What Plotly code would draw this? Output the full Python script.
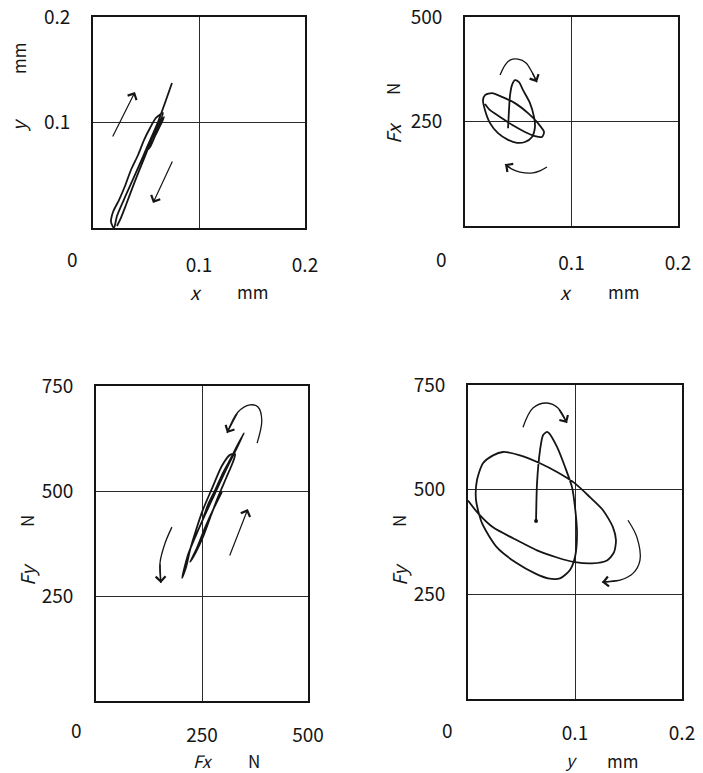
import plotly.graph_objects as go

# ---------------- data ----------------
# (a) displacement orbit, x vs y [mm]
orbit_xy_x = [0.0745, 0.0679, 0.0613, 0.0519, 0.0425, 0.0311, 0.0226, 0.0198,
              0.0170, 0.0189, 0.0245, 0.0302, 0.0358, 0.0425, 0.0481, 0.0538, 0.0594, 0.0660,
              0.0604, 0.0538, 0.0509, 0.0538, 0.0585, 0.0651, 0.0670,
              0.0623, 0.0566, 0.0491, 0.0396, 0.0311, 0.0255, 0.0226]
orbit_xy_y = [0.1374, 0.1185, 0.1005, 0.0787, 0.0569, 0.0313, 0.0114, 0.0000,
              0.0057, 0.0152, 0.0265, 0.0398, 0.0550, 0.0692, 0.0834, 0.0948, 0.1043, 0.1090,
              0.0948, 0.0815, 0.0739, 0.0768, 0.0872, 0.1005, 0.1052,
              0.0986, 0.0872, 0.0682, 0.0445, 0.0218, 0.0076, 0.0019]

# (b) x displacement [mm] vs Fx [N]
orbit_xf_x = [0.0404, 0.0413, 0.0423, 0.0441, 0.0469, 0.0507, 0.0545, 0.0610, 0.0648,
              0.0657, 0.0629, 0.0563, 0.0488, 0.0404, 0.0310, 0.0235, 0.0188, 0.0169,
              0.0188, 0.0254, 0.0347, 0.0469, 0.0592, 0.0685, 0.0742, 0.0723, 0.0657,
              0.0563, 0.0441, 0.0329, 0.0235, 0.0188]
orbit_xf_f = [234, 277, 313, 337, 349, 344, 325, 294, 261,
              237, 213, 201, 199, 206, 222, 246, 277, 301,
              313, 318, 309, 294, 270, 246, 225, 213, 215,
              225, 242, 261, 277, 292]

# (c) Fx [N] vs Fy [N]
orbit_ff_x = [252, 264, 281, 297, 316, 330, 349, 330, 304, 281, 257, 236, 217, 203,
              212, 222, 236, 252, 274, 297, 316, 328, 323, 307, 288, 269, 252, 236, 222,
              238, 257, 276, 297]
orbit_ff_y = [433, 467, 502, 538, 574, 602, 638, 598, 545, 495, 443, 395, 348, 293,
              317, 360, 407, 455, 507, 560, 586, 588, 569, 531, 486, 436, 390, 355, 331,
              364, 412, 455, 498]

# (d) y displacement [mm] vs Fy [N]
orbit_yf_y = [0.0636, 0.0645, 0.0673, 0.0701, 0.0738, 0.0757, 0.0832, 0.0907, 0.0972,
              0.1000, 0.1019, 0.1000, 0.0953, 0.0860, 0.0748, 0.0626, 0.0458, 0.0271,
              0.0131, 0.0075, 0.0084, 0.0140, 0.0234, 0.0327, 0.0486, 0.0673, 0.0832,
              0.1000, 0.1140, 0.1262, 0.1355, 0.1383, 0.1364, 0.1299, 0.1159, 0.1000,
              0.0832, 0.0645, 0.0421, 0.0234, 0.0093, 0.0000]
orbit_yf_f = [425, 515, 594, 630, 638, 635, 602, 554, 506,
              458, 396, 339, 308, 288, 288, 300, 324, 362,
              420, 475, 523, 563, 582, 590, 582, 563, 542,
              515, 482, 451, 410, 379, 350, 331, 324, 327,
              338, 355, 384, 410, 444, 474]

# direction-of-rotation arrows (data units): curved paths end at the arrow tip
arrows_straight = {
    1: [((0.0179, 0.0853), (0.0396, 0.1289)), ((0.0755, 0.0645), (0.0566, 0.0237))],
    3: [((314, 343), (358, 457))],
}
arrows_curved = {
    2: [([0.0329, 0.0376, 0.0423, 0.0498, 0.0573, 0.0629, 0.0676],
         [361, 385, 397, 399, 390, 368, 344]),
        ([0.0770, 0.0704, 0.0638, 0.0516, 0.0441, 0.0376],
         [141, 132, 127, 129, 136, 148])],
    3: [([380, 391, 382, 363, 335, 309], [614, 669, 700, 705, 688, 638]),
        ([179, 163, 151, 153], [414, 376, 329, 281])],
    4: [([0.0514, 0.0607, 0.0738, 0.0841, 0.0925], [649, 695, 707, 695, 659]),
        ([0.1495, 0.1579, 0.1607, 0.1542, 0.1421, 0.1252], [427, 386, 331, 300, 284, 279])],
}

mm_ticks = [0.1, 0.2]
mm_text = ["0.1", "0.2"]
fx_ticks_top = [250, 500]
f_ticks_500 = [250, 500]
f_ticks_750 = [250, 500, 750]

W, H = 703, 773
FONT = "Noto Sans CJK JP"
INK = "#151515"


def px_x(p):
    return p / W


def px_y(p):
    return 1 - p / H


def axis(domain, rng, tv, tt, anchor, standoff):
    return dict(
        domain=domain, range=rng, tickvals=tv, ticktext=tt, anchor=anchor,
        showline=True, mirror=True, linecolor=INK, linewidth=1.6,
        showgrid=True, gridcolor="#2a2a2a", gridwidth=1, zeroline=False,
        ticks="", ticklabelstandoff=standoff, automargin=False,
        tickfont=dict(family=FONT, size=19, color=INK), fixedrange=True,
    )


fig = go.Figure()

panels = [
    (orbit_xy_x, orbit_xy_y, "x", "y"),
    (orbit_xf_x, orbit_xf_f, "x2", "y2"),
    (orbit_ff_x, orbit_ff_y, "x3", "y3"),
    (orbit_yf_y, orbit_yf_f, "x4", "y4"),
]
for xs, ys, xa, ya in panels:
    fig.add_trace(go.Scatter(x=xs, y=ys, xaxis=xa, yaxis=ya, mode="lines",
                             line=dict(color=INK, width=1.8, shape="spline", smoothing=0.7),
                             hoverinfo="skip", showlegend=False))

# starting point of the force/displacement orbit
fig.add_trace(go.Scatter(x=[orbit_yf_y[0]], y=[orbit_yf_f[0]], xaxis="x4", yaxis="y4",
                         mode="markers", marker=dict(color=INK, size=4),
                         hoverinfo="skip", showlegend=False))

annotations = []

for k, paths in arrows_curved.items():
    xa = "x" if k == 1 else f"x{k}"
    ya = "y" if k == 1 else f"y{k}"
    for xs, ys in paths:
        fig.add_trace(go.Scatter(x=xs, y=ys, xaxis=xa, yaxis=ya, mode="lines",
                                 line=dict(color=INK, width=1.3, shape="spline"),
                                 hoverinfo="skip", showlegend=False))
        annotations.append(dict(x=xs[-1], y=ys[-1], ax=xs[-2], ay=ys[-2], xref=xa, yref=ya,
                                axref=xa, ayref=ya, showarrow=True, arrowhead=4,
                                arrowsize=1.6, arrowwidth=1.2, arrowcolor=INK, text=""))

for k, arrs in arrows_straight.items():
    xa = "x" if k == 1 else f"x{k}"
    ya = "y" if k == 1 else f"y{k}"
    for (x0, y0), (x1, y1) in arrs:
        annotations.append(dict(x=x1, y=y1, ax=x0, ay=y0, xref=xa, yref=ya,
                                axref=xa, ayref=ya, showarrow=True, arrowhead=4,
                                arrowsize=1.6, arrowwidth=1.2, arrowcolor=INK, text=""))


def label(text, xp, yp, angle=0, size=19):
    annotations.append(dict(text=text, x=px_x(xp), y=px_y(yp), xref="paper", yref="paper",
                            showarrow=False, textangle=angle, xanchor="center", yanchor="middle",
                            borderpad=0, font=dict(family=FONT, size=size, color=INK)))


# origin labels at the corners
label("0", 72, 258)
label("0", 441, 258)
label("0", 76, 729)
label("0", 447, 729)

# axis titles
label("<i>x</i>", 196, 291)
label("mm", 252, 291, size=17)
label("<i>x</i>", 566, 291)
label("mm", 623, 291, size=17)
label("<i>Fx</i>", 203, 760, size=17)
label("N", 254, 760, size=17)
label("<i>y</i>", 571, 759, size=17)
label("mm", 622, 760, size=17)

label("<i>y</i>", 18, 125, angle=-90)
label("mm", 18, 59, angle=-90, size=17)
label("<i>Fx</i>", 393, 133, angle=-90)
label("N", 393, 89, angle=-90, size=17)
label("<i>Fy</i>", 26, 575, angle=-90)
label("N", 26, 521, angle=-90, size=17)
label("<i>Fy</i>", 398, 575, angle=-90)
label("N", 398, 521, angle=-90, size=17)

fig.update_layout(
    width=W, height=H,
    margin=dict(l=0, r=0, t=0, b=0),
    paper_bgcolor="white", plot_bgcolor="white",
    showlegend=False,
    xaxis=axis([px_x(93), px_x(305)], [0, 0.2], mm_ticks, mm_text, "y", 19),
    yaxis=axis([px_y(228), px_y(17)], [0, 0.2], mm_ticks, mm_text, "x", 17),
    xaxis2=axis([px_x(465), px_x(678)], [0, 0.2], mm_ticks, mm_text, "y2", 19),
    yaxis2=axis([px_y(226), px_y(17)], [0, 500], fx_ticks_top, [str(v) for v in fx_ticks_top], "x2", 17),
    xaxis3=axis([px_x(96), px_x(308)], [0, 500], f_ticks_500, [str(v) for v in f_ticks_500], "y3", 16),
    yaxis3=axis([px_y(701), px_y(386)], [0, 750], f_ticks_750, [str(v) for v in f_ticks_750], "x3", 17),
    xaxis4=axis([px_x(468), px_x(682)], [0, 0.2], mm_ticks, mm_text, "y4", 16),
    yaxis4=axis([px_y(699), px_y(385)], [0, 750], f_ticks_750, [str(v) for v in f_ticks_750], "x4", 17),
    annotations=annotations,
)

fig.write_html("out.html")
